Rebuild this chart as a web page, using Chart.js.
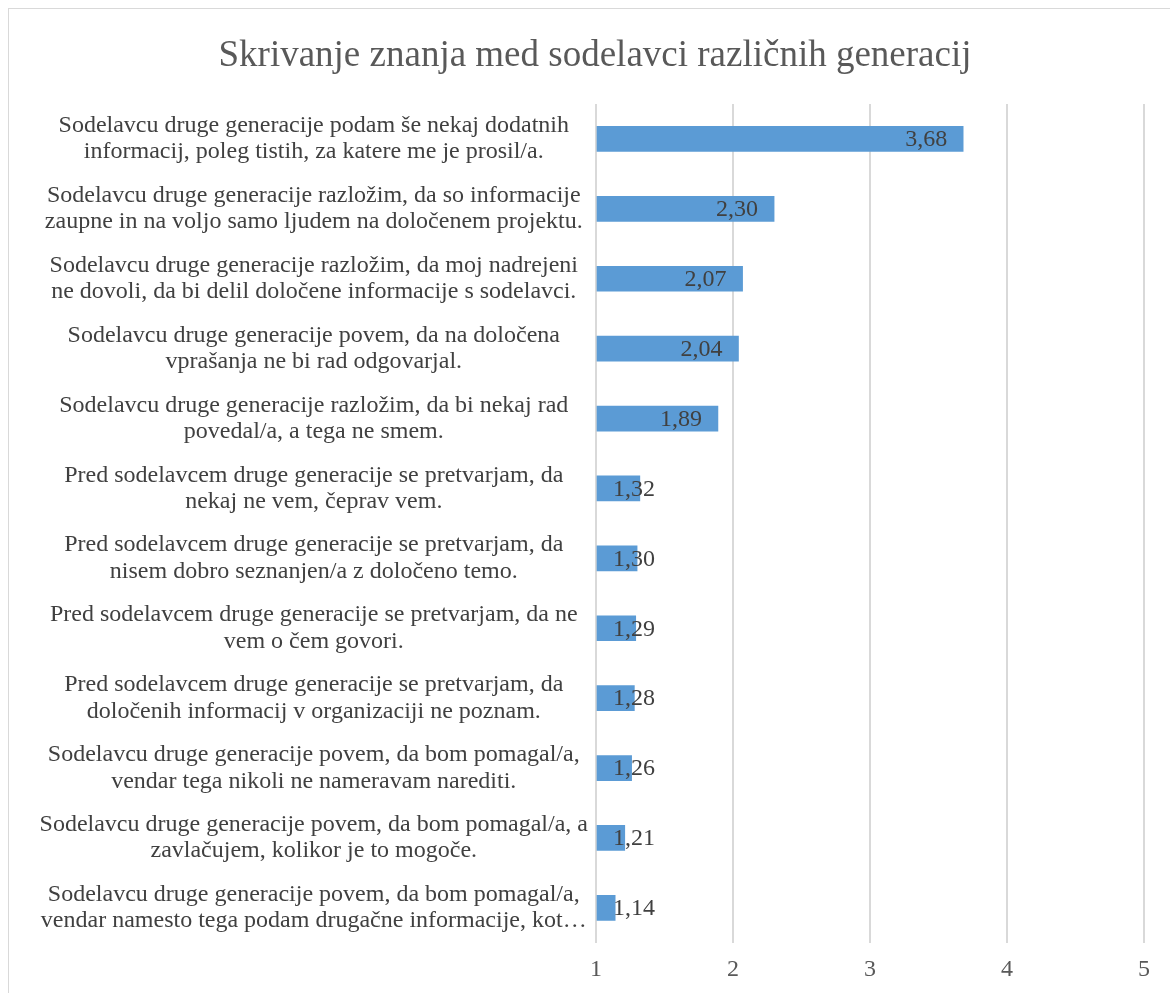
<!DOCTYPE html>
<html>
<head>
<meta charset="utf-8">
<script src="https://cdn.jsdelivr.net/npm/chart.js@4/dist/chart.umd.min.js"></script>
<style>
  html, body { margin: 0; padding: 0; background: #fff; }
  #okvir { position: absolute; left: 8px; top: 8px; width: 1180px; height: 1000px; border: 1px solid #d9d9d9; }
  #wrap { position: absolute; left: 0; top: 0; width: 1170px; height: 993px; }
</style>
</head>
<body>
<div id="okvir"></div>
<div id="wrap"><canvas id="graf"></canvas></div>
<script>
const naslov = 'Skrivanje znanja med sodelavci različnih generacij';

const trditve = [
  ['Sodelavcu druge generacije podam še nekaj dodatnih', 'informacij, poleg tistih, za katere me je prosil/a.'],
  ['Sodelavcu druge generacije razložim, da so informacije', 'zaupne in na voljo samo ljudem na določenem projektu.'],
  ['Sodelavcu druge generacije razložim, da moj nadrejeni', 'ne dovoli, da bi delil določene informacije s sodelavci.'],
  ['Sodelavcu druge generacije povem, da na določena', 'vprašanja ne bi rad odgovarjal.'],
  ['Sodelavcu druge generacije razložim, da bi nekaj rad', 'povedal/a, a tega ne smem.'],
  ['Pred sodelavcem druge generacije se pretvarjam, da', 'nekaj ne vem, čeprav vem.'],
  ['Pred sodelavcem druge generacije se pretvarjam, da', 'nisem dobro seznanjen/a z določeno temo.'],
  ['Pred sodelavcem druge generacije se pretvarjam, da ne', 'vem o čem govori.'],
  ['Pred sodelavcem druge generacije se pretvarjam, da', 'določenih informacij v organizaciji ne poznam.'],
  ['Sodelavcu druge generacije povem, da bom pomagal/a,', 'vendar tega nikoli ne nameravam narediti.'],
  ['Sodelavcu druge generacije povem, da bom pomagal/a, a', 'zavlačujem, kolikor je to mogoče.'],
  ['Sodelavcu druge generacije povem, da bom pomagal/a,', 'vendar namesto tega podam drugačne informacije, kot…']
];

const povprecja = [3.68, 2.30, 2.07, 2.04, 1.89, 1.32, 1.30, 1.29, 1.28, 1.26, 1.21, 1.14];

const osX = { min: 1, max: 5, korak: 1 };

const pisava = "'Liberation Serif', 'Times New Roman', serif";

// naslov narisan na sredino okvirja grafikona (ne na sredino platna)
const naslovGrafa = {
  id: 'naslovGrafa',
  afterDraw(chart) {
    const ctx = chart.ctx;
    ctx.save();
    ctx.font = '37px ' + pisava;
    ctx.fillStyle = '#595959';
    ctx.textAlign = 'center';
    ctx.textBaseline = 'middle';
    ctx.fillText(naslov, 595, 56);
    ctx.restore();
  }
};

// oznake vrednosti: desno poravnane na konec stolpca, pri kratkih stolpcih zamaknjene
const oznakeVrednosti = {
  id: 'oznakeVrednosti',
  afterDatasetsDraw(chart) {
    const ctx = chart.ctx;
    const meta = chart.getDatasetMeta(0);
    ctx.save();
    ctx.font = '24px ' + pisava;
    ctx.fillStyle = '#404040';
    ctx.textBaseline = 'middle';
    ctx.textAlign = 'left';
    meta.data.forEach(function (bar, i) {
      const besedilo = povprecja[i].toFixed(2).replace('.', ',');
      const w = ctx.measureText(besedilo).width;
      const x = Math.max(bar.x - 16 - w, bar.base + 16);
      ctx.fillText(besedilo, x, bar.y + 1);
    });
    ctx.restore();
  }
};

new Chart(document.getElementById('graf'), {
  type: 'bar',
  data: {
    labels: trditve,
    datasets: [{
      data: povprecja,
      backgroundColor: '#5b9bd5',
      borderWidth: 0,
      barThickness: 25,
      base: osX.min
    }]
  },
  options: {
    indexAxis: 'y',
    responsive: true,
    maintainAspectRatio: false,
    animation: false,
    layout: { padding: { left: 10, right: 26, top: 104, bottom: -3 } },
    plugins: {
      legend: { display: false },
      tooltip: { enabled: false },
      title: { display: false }
    },
    scales: {
      x: {
        min: osX.min,
        max: osX.max,
        ticks: {
          stepSize: osX.korak,
          color: '#595959',
          font: { family: pisava, size: 24, lineHeight: 0.8 },
          padding: 17
        },
        grid: { color: '#d9d9d9', lineWidth: 2, drawTicks: false },
        border: { display: false }
      },
      y: {
        ticks: {
          color: '#404040',
          font: { family: pisava, size: 24, lineHeight: 1.1 },
          crossAlign: 'center',
          padding: 0,
          autoSkip: false
        },
        grid: { display: false },
        border: { display: false },
        afterFit: function (scale) { scale.width = 586; }
      }
    }
  },
  plugins: [oznakeVrednosti, naslovGrafa]
});
</script>
</body>
</html>
